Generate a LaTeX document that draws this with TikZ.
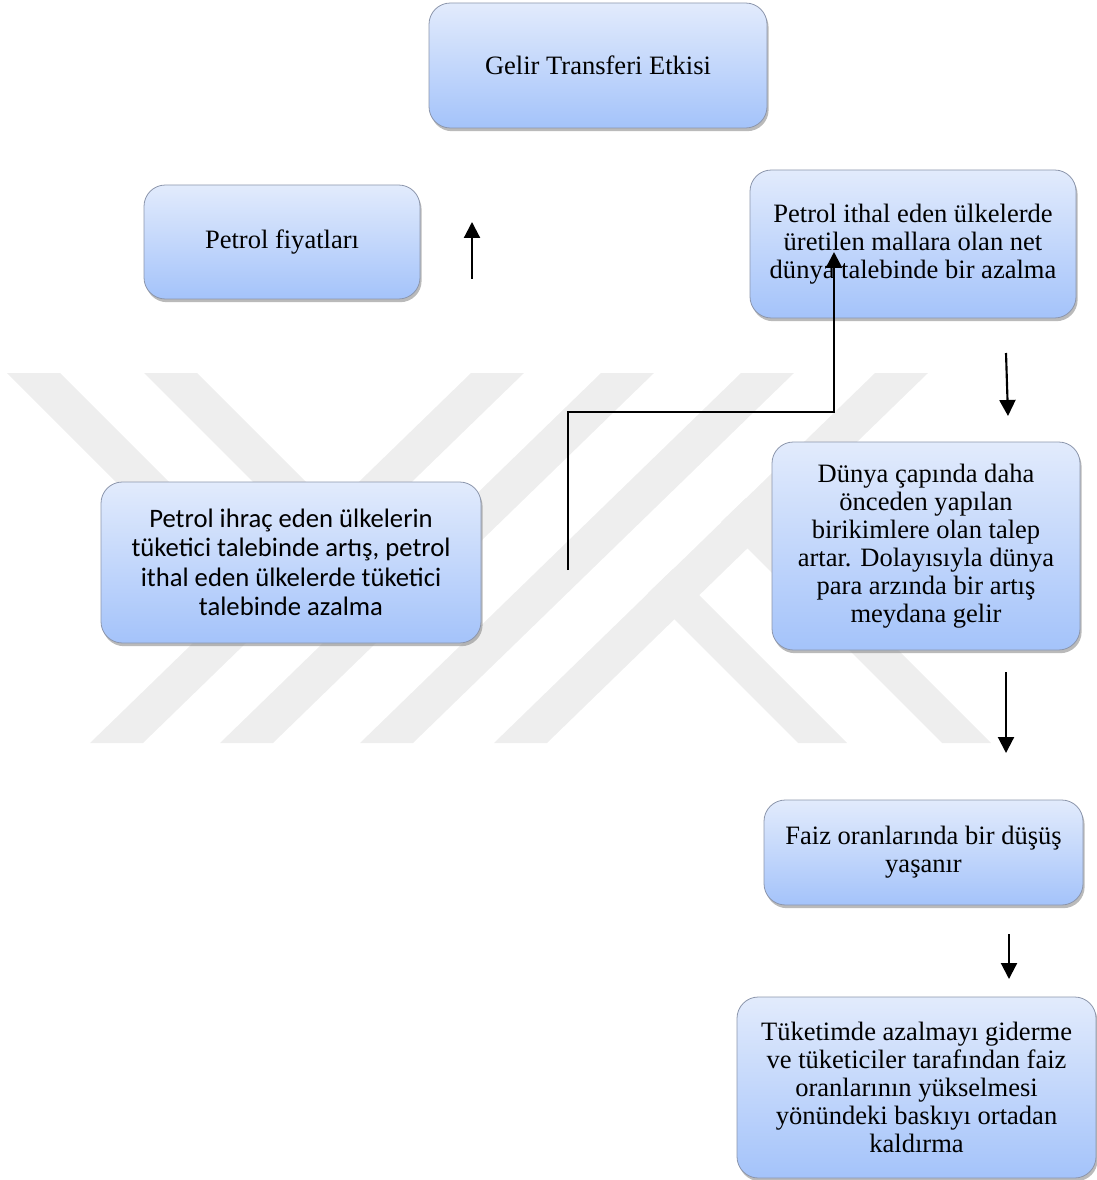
\documentclass[tikz,border=0pt]{standalone}
\usepackage{fontspec}
\setmainfont{Liberation Serif}
\newfontfamily\calibrifont{Carlito}
\usepackage{tikz}
\usetikzlibrary{arrows.meta}
\usetikzlibrary{shadows}
\definecolor{kutuust}{RGB}{226,235,252}
\definecolor{kutualt}{RGB}{164,195,250}
\definecolor{kutucizgi}{RGB}{140,150,172}
\definecolor{filigran}{RGB}{238,238,238}
\tikzset{kutu/.style={rectangle, rounded corners=16pt, draw=kutucizgi, line width=.6pt,
  top color=kutuust, bottom color=kutualt, align=center, inner sep=0pt,
  drop shadow={shadow xshift=1.2pt, shadow yshift=-2.4pt, fill=black!45, opacity=.6},
  font=\fontsize{19.9}{21}\selectfont}}
\tikzset{ok/.style={line width=1.6pt, -{Triangle[width=12pt,length=12pt]}}}

\begin{document}
\begin{tikzpicture}[x=.75pt,y=-.75pt]
  \useasboundingbox (0,0) rectangle (1096,1180);
  \foreach \u in {471,601,741,875} {
    \fill[filigran] (\u,373) -- (\u+53,373) -- (\u+53-381,743) -- (\u-381,743) -- cycle;
  }
  \fill[filigran] (7,373) -- (60,373) -- (247,560) -- (194,560) -- cycle;
  \fill[filigran] (144,373) -- (197,373) -- (384,560) -- (331,560) -- cycle;
  \fill[filigran] (648,593) -- (673,569) -- (847,743) -- (798,743) -- cycle;
  \fill[filigran] (721,522) -- (746,498) -- (991,743) -- (942,743) -- cycle;
  \foreach \x/\y/\w/\h/\lab/\txt in {
    598/65.5/338/125/gelir/{Gelir Transferi Etkisi},
    282/242/276/114/fiyat/{Petrol fiyatları},
    913/244/326/148/ithal/{Petrol ithal eden ülkelerde\\üretilen mallara olan net\\dünya talebinde bir azalma},
    926/546/308/208/dunya/{Dünya çapında daha\\önceden yapılan\\birikimlere olan talep\\artar. Dolayısıyla dünya\\para arzında bir artış\\meydana gelir},
    923.5/852.5/319/105/faiz/{Faiz oranlarında bir düşüş\\yaşanır},
    916.5/1087.5/359/181/tuketim/{Tüketimde azalmayı giderme\\ve tüketiciler tarafından faiz\\oranlarının yükselmesi\\yönündeki baskıyı ortadan\\kaldırma}%
  } {
    \node[kutu, minimum width=.75pt*\w, minimum height=.75pt*\h] (\lab) at (\x,\y) {\txt};
  }
  \node[kutu, minimum width=.75pt*380, minimum height=.75pt*161,
    font=\calibrifont\fontsize{20}{22}\selectfont] (ihrac) at (291,562.5)
    {Petrol ihraç eden ülkelerin\\tüketici talebinde artış, petrol\\ithal eden ülkelerde tüketici\\talebinde azalma};
  \coordinate (yukari0) at (472,279);
  \coordinate (yukari1) at (472,222);
  \coordinate (dirsek0) at (568,570);
  \coordinate (dirsek1) at (834,412);
  \coordinate (dirsek2) at (834,252);
  \coordinate (asagi0) at (1006,353);
  \coordinate (asagi1) at (1008,416);
  \coordinate (asagi2) at (1006,672);
  \coordinate (asagi3) at (1006,753);
  \coordinate (asagi4) at (1009,934);
  \coordinate (asagi5) at (1009,979);
  \draw[ok] (yukari0) -- (yukari1);
  \draw[ok, line width=2pt] (dirsek0) |- (dirsek1) -- (dirsek2);
  \foreach \u/\v in {asagi0/asagi1, asagi2/asagi3, asagi4/asagi5} {
    \draw[ok] (\u) -- (\v);
  }
\end{tikzpicture}
\end{document}
